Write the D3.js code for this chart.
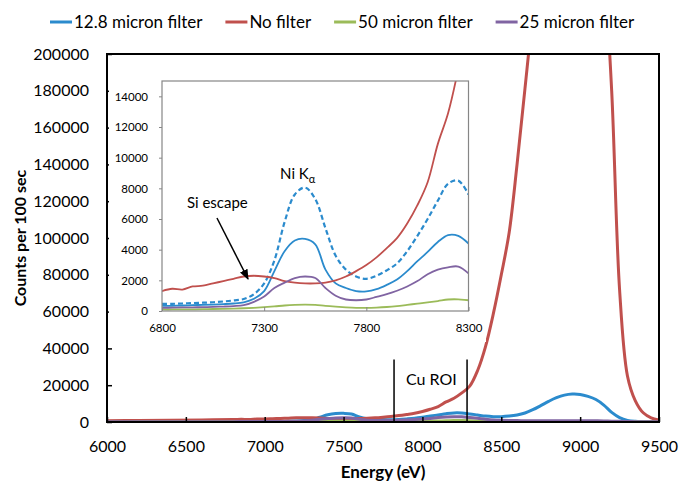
<!DOCTYPE html>
<html>
<head>
  <meta charset="utf-8">
  <script src="https://cdn.jsdelivr.net/npm/d3@7"></script>
  <style>
    body { margin: 0; background: #fff; }
    text { font-family: Lato, "Open Sans", sans-serif; fill: #000; }
  </style>
</head>
<body>
<script type="text/javascript">
// energy grid (eV)
var energies = [6000, 6200, 6400, 6600,
  6800, 6850, 6900, 6950, 7000, 7050, 7100, 7150, 7200, 7250, 7300, 7350, 7400, 7450, 7500, 7550,
  7600, 7650, 7700, 7750, 7800, 7850, 7900, 7950, 8000, 8050, 8100, 8150, 8200, 8250, 8300,
  8350, 8400, 8450, 8500, 8550, 8600, 8650, 8700, 8750, 8800, 8850, 8900, 8950, 9000, 9050,
  9100, 9150, 9200, 9250, 9300, 9350, 9400, 9450, 9500];

var micron128 = [250, 280, 300, 320,
  330, 340, 360, 380, 400, 420, 450, 490, 570, 800, 1300, 2600, 3900, 4600, 4700, 4350,
  2700, 1800, 1500, 1300, 1280, 1420, 1700, 2050, 2600, 3250, 3850, 4500, 4950, 4900, 4400,
  3800, 3200, 2900, 2900, 3200, 3800, 4900, 6700, 8900, 11200, 13200, 14600, 15200, 15000, 13900,
  12200, 9200, 5200, 2400, 900, 350, 200, 150, 100];

var noFilter = [700, 850, 1000, 1150,
  1300, 1450, 1400, 1600, 1650, 1800, 1950, 2100, 2250, 2300, 2250, 2150, 1950, 1850, 1800, 1800,
  1850, 2000, 2250, 2600, 3000, 3500, 4100, 4750, 5700, 6900, 8400, 10900, 12900, 15800, 19500,
  28000, 41000, 59000, 80000, 103000, 140000, 181000, 225000, 290000, 340000, 380000, 400000, 400000, 380000, 340000,
  300000, 250000, 180000, 72000, 25000, 11500, 5000, 2300, 1100];

var micron50 = [60, 70, 80, 90,
  100, 100, 110, 110, 120, 130, 140, 160, 180, 210, 250, 300, 360, 400, 420, 400,
  330, 280, 240, 210, 200, 220, 260, 320, 400, 480, 560, 650, 750, 760, 700,
  550, 420, 330, 280, 250, 230, 220, 210, 200, 200, 200, 200, 200, 190, 180,
  170, 150, 130, 110, 100, 90, 80, 70, 60];

var micron25 = [150, 170, 180, 190,
  200, 220, 230, 240, 250, 270, 290, 320, 380, 600, 950, 1500, 1850, 2150, 2250, 2150,
  1500, 1000, 750, 700, 750, 920, 1100, 1320, 1600, 1950, 2400, 2700, 2850, 2900, 2450,
  2000, 1500, 1100, 900, 800, 750, 720, 700, 700, 700, 700, 700, 720, 700, 680,
  650, 550, 450, 350, 250, 200, 150, 120, 100];

// dashed curve, only shown in the inset (6800-8300 eV)
var insetEnergies = [6800, 6850, 6900, 6950, 7000, 7050, 7100, 7150, 7200, 7250, 7300, 7350, 7400, 7450, 7500, 7550,
  7600, 7650, 7700, 7750, 7800, 7850, 7900, 7950, 8000, 8050, 8100, 8150, 8200, 8250, 8300];
var micron128Dashed = [460, 470, 490, 520, 540, 570, 620, 690, 780, 1100, 1800, 3300, 5800, 7600, 8050, 7300,
  5400, 3600, 2700, 2250, 2100, 2300, 2650, 3100, 3900, 4900, 6000, 7200, 8300, 8500, 7600];

var mainXTicks = [6000, 6500, 7000, 7500, 8000, 8500, 9000, 9500];
var mainYTicks = [0, 20000, 40000, 60000, 80000, 100000, 120000, 140000, 160000, 180000, 200000];
var insetXTicks = [6800, 7300, 7800, 8300];
var insetYTicks = [0, 2000, 4000, 6000, 8000, 10000, 12000, 14000];
var cuROI = [7820, 8283];

var series = [
  {name: "12.8 micron filter", values: micron128, color: "#2b8bcd"},
  {name: "No filter", values: noFilter, color: "#c0504d"},
  {name: "50 micron filter", values: micron50, color: "#9bbb59"},
  {name: "25 micron filter", values: micron25, color: "#8064a2"}
];

function draw() {
  "use strict";

  var width = 680, height = 481;

  var svg = d3.select("body").append("svg")
      .attr("width", width)
      .attr("height", height);

  var x = d3.scaleLinear().domain([6000, 9500]).range([107, 659]);
  var y = d3.scaleLinear().domain([0, 200000]).range([422, 54]);

  svg.append("clipPath").attr("id", "mainClip")
    .append("rect")
      .attr("x", x.range()[0]).attr("y", y.range()[1])
      .attr("width", x.range()[1] - x.range()[0])
      .attr("height", y.range()[0] - y.range()[1]);

  var line = d3.line()
      .x(function(d) { return x(d[0]); })
      .y(function(d) { return y(d[1]); })
      .curve(d3.curveCatmullRom.alpha(0.5));

  var main = svg.append("g").attr("clip-path", "url(#mainClip)");
  series.forEach(function(s) {
    main.append("path")
      .datum(energies.map(function(e, i) { return [e, s.values[i]]; }))
      .attr("d", line)
      .attr("fill", "none")
      .attr("stroke", s.color)
      .attr("stroke-width", 3);
  });

  // Cu ROI markers
  cuROI.forEach(function(e) {
    svg.append("line")
      .attr("x1", x(e)).attr("x2", x(e))
      .attr("y1", y(34000)).attr("y2", y(-500))
      .attr("stroke", "#000").attr("stroke-width", 1.5);
  });
  svg.append("text")
    .attr("x", x(7896)).attr("y", y(20200))
    .style("font-size", "16px")
    .text("Cu ROI");

  // main axes
  var xAxis = svg.append("g")
      .attr("transform", "translate(0," + y(0) + ")")
      .call(d3.axisBottom(x).tickValues(mainXTicks).tickFormat(d3.format("d"))
        .tickSizeInner(-5).tickSizeOuter(0).tickPadding(19));
  var yAxis = svg.append("g")
      .attr("transform", "translate(" + x(6000) + ",0)")
      .call(d3.axisLeft(y).tickValues(mainYTicks).tickFormat(d3.format("d"))
        .tickSizeInner(-5).tickSizeOuter(0).tickPadding(18));
  [xAxis, yAxis].forEach(function(a) {
    a.selectAll("text").style("font-size", "16px").style("font-family", "Lato, sans-serif").attr("fill", "#000");
    a.selectAll("line").attr("stroke", "#000").attr("stroke-width", 1.5);
    a.select(".domain").remove();
  });

  svg.append("rect")
    .attr("x", x(6000)).attr("y", y(200000))
    .attr("width", x(9500) - x(6000)).attr("height", y(0) - y(200000))
    .attr("fill", "none").attr("stroke", "#000").attr("stroke-width", 2);

  // ---- inset ----
  svg.append("rect")
    .attr("x", 109).attr("y", 56).attr("width", 377).attr("height", 286)
    .attr("fill", "#fff");

  var xi = d3.scaleLinear().domain([6800, 8300]).range([162, 468.5]);
  var yi = d3.scaleLinear().domain([0, 15000]).range([311, 81]);

  svg.append("clipPath").attr("id", "insetClip")
    .append("rect")
      .attr("x", xi.range()[0]).attr("y", yi.range()[1])
      .attr("width", xi.range()[1] - xi.range()[0])
      .attr("height", yi.range()[0] - yi.range()[1]);

  var iline = d3.line()
      .x(function(d) { return xi(d[0]); })
      .y(function(d) { return yi(d[1]); })
      .curve(d3.curveCatmullRom.alpha(0.5));

  var inset = svg.append("g").attr("clip-path", "url(#insetClip)");

  inset.append("path")
    .datum(insetEnergies.map(function(e, i) { return [e, micron128Dashed[i]]; }))
    .attr("d", iline)
    .attr("fill", "none")
    .attr("stroke", series[0].color)
    .attr("stroke-width", 2.2)
    .attr("stroke-dasharray", "5,3");

  series.forEach(function(s) {
    var pts = energies.map(function(e, i) { return [e, s.values[i]]; })
      .filter(function(d) { return d[0] >= 6800 && d[0] <= 8300; });
    inset.append("path")
      .datum(pts)
      .attr("d", iline)
      .attr("fill", "none")
      .attr("stroke", s.color)
      .attr("stroke-width", 1.8);
  });

  var xiAxis = svg.append("g")
      .attr("transform", "translate(0," + yi(0) + ")")
      .call(d3.axisBottom(xi).tickValues(insetXTicks).tickFormat(d3.format("d"))
        .tickSizeInner(-4).tickSizeOuter(0).tickPadding(13));
  var yiAxis = svg.append("g")
      .attr("transform", "translate(" + xi(6800) + ",0)")
      .call(d3.axisLeft(yi).tickValues(insetYTicks).tickFormat(d3.format("d"))
        .tickSizeInner(3).tickSizeOuter(0).tickPadding(11));
  [xiAxis, yiAxis].forEach(function(a) {
    a.selectAll("text").style("font-size", "11.5px").style("font-family", "Lato, sans-serif").attr("fill", "#000");
    a.selectAll("line").attr("stroke", "#868686");
    a.select(".domain").remove();
  });

  svg.append("rect")
    .attr("x", xi(6800)).attr("y", yi(15000))
    .attr("width", xi(8300) - xi(6800)).attr("height", yi(0) - yi(15000))
    .attr("fill", "none").attr("stroke", "#868686").attr("stroke-width", 1.2);

  // inset annotations
  var ni = svg.append("text")
    .attr("x", xi(7378)).attr("y", yi(8609))
    .style("font-size", "15px")
    .text("Ni K");
  ni.append("tspan")
    .attr("dy", 4)
    .style("font-size", "11px")
    .text("α");

  svg.append("text")
    .attr("x", xi(6922)).attr("y", yi(6717))
    .style("font-size", "15px")
    .text("Si escape");

  svg.append("defs").append("marker")
      .attr("id", "arrow")
      .attr("viewBox", "0 0 10 10")
      .attr("refX", 9).attr("refY", 5)
      .attr("markerWidth", 7).attr("markerHeight", 7)
      .attr("orient", "auto")
    .append("path")
      .attr("d", "M0,1 L10,5 L0,9 Z")
      .attr("fill", "#000");

  svg.append("line")
    .attr("x1", xi(7069)).attr("y1", yi(6065))
    .attr("x2", xi(7221)).attr("y2", yi(2087))
    .attr("stroke", "#000").attr("stroke-width", 1.5)
    .attr("marker-end", "url(#arrow)");

  // axis titles
  svg.append("text")
    .attr("transform", "translate(26,238) rotate(-90)")
    .attr("text-anchor", "middle")
    .style("font-size", "16px")
    .style("font-weight", "bold")
    .text("Counts per 100 sec");

  svg.append("text")
    .attr("x", 383).attr("y", 478)
    .attr("text-anchor", "middle")
    .style("font-size", "17px")
    .style("font-weight", "bold")
    .text("Energy (eV)");

  // legend
  var lx = 50;
  series.forEach(function(s) {
    var g = svg.append("g").attr("transform", "translate(" + lx + ",22)");
    g.append("line")
      .attr("x1", 0).attr("x2", 22)
      .attr("stroke", s.color).attr("stroke-width", 3);
    var t = g.append("text")
      .attr("x", 24).attr("y", 6)
      .style("font-size", "17px")
      .text(s.name);
    lx += 24 + t.node().getComputedTextLength() + 23;
  });
}

draw();
</script>
</body>
</html>
